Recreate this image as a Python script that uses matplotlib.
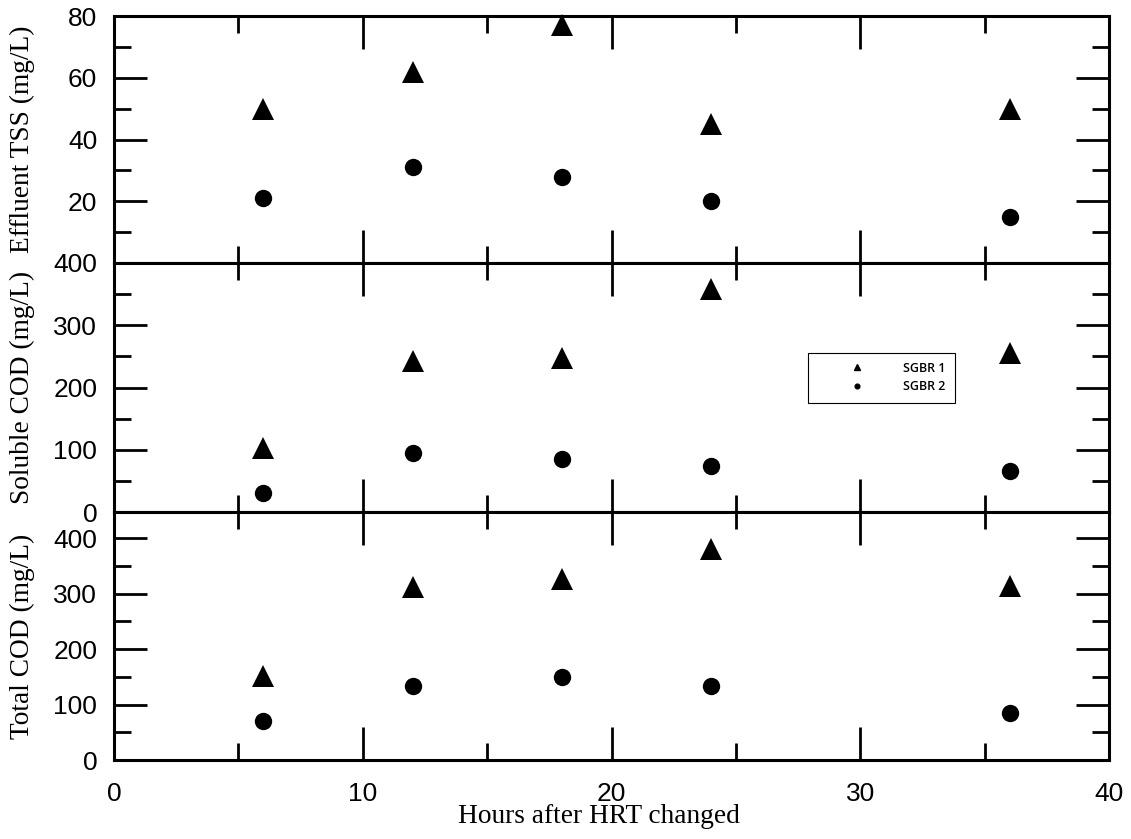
import matplotlib
matplotlib.use("Agg")
import matplotlib.pyplot as plt
from matplotlib.lines import Line2D
from matplotlib.ticker import MultipleLocator, FixedLocator

# Sampling times (hours after HRT change)
hours = [6, 12, 18, 24, 36]

# Effluent TSS (mg/L)
tss_sgbr1 = [50, 62, 77, 45, 50]
tss_sgbr2 = [21, 31, 28, 20, 15]

# Soluble COD (mg/L)
scod_sgbr1 = [103, 243, 247, 358, 255]
scod_sgbr2 = [30, 95, 85, 74, 66]

# Total COD (mg/L)
tcod_sgbr1 = [151, 312, 326, 380, 313]
tcod_sgbr2 = [70, 133, 150, 133, 85]

series_labels = ["SGBR 1", "SGBR 2"]
panel_ylabels = ["Effluent TSS (mg/L)", "Soluble COD (mg/L)", "Total COD (mg/L)"]

W, H = 1131, 839
fig = plt.figure(figsize=(W / 100, H / 100), dpi=100)

left = 114 / W
width = (1109 - 114) / W
edges_px = [16, 263, 512, 760]

tick_font = {"family": "Liberation Sans", "size": 19}
label_font = {"family": "Liberation Serif", "size": 19.75}

axes = []
for i in range(3):
    top_px, bot_px = edges_px[i], edges_px[i + 1]
    ax = fig.add_axes([left, 1 - bot_px / H, width, (bot_px - top_px) / H])
    axes.append(ax)

panels = [
    (tss_sgbr1, tss_sgbr2, (0, 80), [20, 40, 60, 80], [10, 30, 50, 70]),
    (scod_sgbr1, scod_sgbr2, (0, 400), [0, 100, 200, 300, 400], [50, 150, 250, 350]),
    (tcod_sgbr1, tcod_sgbr2, (0, 447), [0, 100, 200, 300, 400], [50, 150, 250, 350]),
]

for i, (ax, (s1, s2, ylim, majors, minors)) in enumerate(zip(axes, panels)):
    ax.plot(hours, s1, linestyle="none", marker="^", markersize=16,
            color="black", markeredgewidth=0, clip_on=False, zorder=3)
    ax.plot(hours, s2, linestyle="none", marker="o", markersize=12.5,
            color="black", markeredgewidth=0, clip_on=False, zorder=3)
    ax.set_xlim(0, 40)
    ax.set_ylim(*ylim)
    ax.yaxis.set_major_locator(FixedLocator(majors))
    ax.yaxis.set_minor_locator(FixedLocator(minors))
    ax.xaxis.set_major_locator(MultipleLocator(10))
    ax.xaxis.set_minor_locator(MultipleLocator(5))
    for s in ax.spines.values():
        s.set_linewidth(2.2)
    ax.tick_params(which="both", direction="in", top=True, bottom=True,
                   left=True, right=True, width=2.0)
    ax.tick_params(which="major", length=24)
    ax.tick_params(which="minor", length=12)
    ax.tick_params(axis="y", which="major", pad=12)
    ax.tick_params(axis="x", which="major", pad=15.5)
    for lab in ax.get_yticklabels():
        lab.set_fontfamily(tick_font["family"])
        lab.set_fontsize(tick_font["size"])
    if i < 2:
        ax.tick_params(axis="x", labelbottom=False)
    else:
        for lab in ax.get_xticklabels():
            lab.set_fontfamily(tick_font["family"])
            lab.set_fontsize(tick_font["size"])
        ax.set_xlabel("Hours after HRT changed", va="baseline", **label_font)
        ax.xaxis.set_label_coords(0.487, -0.254)
    ax.set_ylabel(panel_ylabels[i], **label_font)
    ax.yaxis.set_label_coords(-0.0794, 0.5)

# Legend in the middle panel
handles = [
    Line2D([], [], linestyle="none", marker="^", markersize=5, color="black"),
    Line2D([], [], linestyle="none", marker="o", markersize=3.4, color="black"),
]
leg = axes[1].legend(handles, series_labels, loc="center",
                     bbox_to_anchor=(881.5 / W, 1 - 377.5 / H),
                     bbox_transform=fig.transFigure,
                     prop={"family": "Open Sans", "weight": "semibold", "size": 9},
                     frameon=True, fancybox=False, framealpha=1,
                     edgecolor="black", borderpad=0.74, handlelength=6.36,
                     handletextpad=0.5, labelspacing=0.44)
leg.get_frame().set_linewidth(0.8)

fig.savefig("out.png", dpi=100)
